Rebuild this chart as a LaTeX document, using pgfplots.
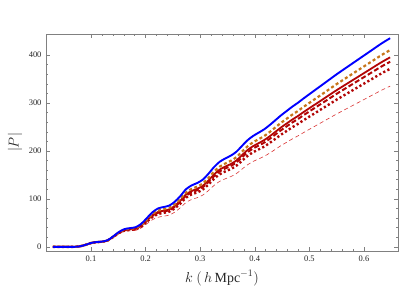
\documentclass[border=0pt]{standalone}
\usepackage{fontspec}
\setmainfont{Liberation Serif}
\usepackage{pgfplots}
\usepackage{pgfplotstable}
\pgfplotsset{compat=1.18}
\definecolor{myorange}{rgb}{0.78,0.46,0.10}
\definecolor{myred}{rgb}{0.70,0.02,0.02}
\definecolor{mythin}{rgb}{0.85,0.20,0.20}
\pgfplotstableread{
k B O R RD RDT TH
0.0300 0 0 0 0 0 0
0.0500 0 0 0 0 0 0
0.0700 0 0 0 0 0 0
0.0795 1 1 1 1 1 1
0.0898 4 4 4 4 4 3.9
0.1000 8 7.9 7.9 7.9 7.8 7.7
0.1102 10 9.9 9.8 9.8 9.7 9.5
0.1205 11 10.8 10.7 10.6 10.5 10.3
0.1307 14 13.7 13.5 13.4 13.3 12.8
0.1409 22 21.5 21.1 20.9 20.6 19.8
0.1512 31 30.1 29.6 29.2 28.7 27.4
0.1614 37 35.8 35.1 34.6 33.9 32.2
0.1717 39 37.6 36.7 36.2 35.3 33.3
0.1819 41 39.4 38.3 37.7 36.7 34.3
0.1921 48 45.8 44.5 43.7 42.4 39.3
0.2024 60 57.1 55.3 54.2 52.4 48.1
0.2126 72 68.2 65.8 64.4 62.1 56.6
0.2228 80 75.4 72.6 71.0 68.2 61.6
0.2331 83 78.3 75.4 73.6 70.8 63.9
0.2433 86 81.1 78.1 76.3 73.4 66.2
0.2535 94 88.6 85.4 83.4 80.2 72.4
0.2638 106 100.0 96.2 94.0 90.4 81.6
0.2740 120 113.2 109.0 106.4 102.4 92.4
0.2842 128 120.7 116.2 113.5 109.2 98.6
0.2945 133 125.4 120.8 118.0 113.4 102.4
0.3047 140 132.0 127.1 124.2 119.4 107.8
0.3149 152 143.3 138.0 134.8 129.7 117.0
0.3252 166 156.5 150.7 147.2 141.6 127.8
0.3354 177 166.9 160.7 157.0 151.0 136.3
0.3456 184 173.5 167.1 163.2 157.0 141.7
0.3559 190 179.2 172.5 168.5 162.1 146.3
0.3661 198 186.7 179.8 175.6 168.9 152.5
0.3763 210 198.0 190.7 186.3 179.1 161.7
0.3866 222 209.3 201.6 196.9 189.4 170.9
0.3968 231 217.8 209.7 204.9 197.0 177.9
0.4071 238 224.4 216.1 211.1 203.0 183.3
0.4173 245 231.0 222.5 217.3 209.0 188.7
0.4275 254 239.5 230.6 225.3 216.7 195.6
0.4378 264 249.0 239.7 234.2 225.2 203.3
0.4480 274 258.4 248.8 243.0 233.7 211.0
0.4583 283 266.9 257.0 251.0 241.4 217.9
0.4685 292 275.4 265.1 259.0 249.1 224.8
0.4787 300 282.9 272.4 266.1 255.9 231.0
0.4890 309 291.4 280.6 274.1 263.6 237.9
0.5094 326 307.4 296.0 289.2 278.1 251.0
0.5299 343 323.4 311.4 304.2 292.6 264.1
0.5504 360 339.5 326.9 319.3 307.1 277.2
0.5708 376 354.6 341.4 333.5 320.7 289.5
0.5913 392 369.7 355.9 347.7 334.4 301.8
0.6118 408 384.7 370.5 361.9 348.0 314.2
0.6323 424 399.8 385.0 376.1 361.7 326.5
0.6480 435 410.2 395.0 385.8 371.1 335.0
}\datatab
\begin{document}
\begin{tikzpicture}
\begin{axis}[
  name=ax,
  scale only axis,
  width=352bp, height=217bp,
  xmin=0.0176, xmax=0.6624,
  ymin=-8.7, ymax=443.7,
  xtick={0.1,0.2,0.3,0.4,0.5,0.6},
  ytick={0,100,200,300,400},
  minor x tick num=4,
  minor y tick num=4,
  tick align=inside,
  major tick length=4bp,
  minor tick length=2bp,
  axis line style={black!50},
  every tick/.style={black!50},
  tick label style={font=\fontsize{8.5}{10}\selectfont, text=black!85},
  /pgf/number format/assume math mode=true,
  xticklabel style={yshift=-1bp},
  yticklabel style={xshift=-1bp},
  xlabel={$k\ \bigl(\,h\,\mathrm{Mpc}^{-1}\bigr)$},
  ylabel={$|P|$},
  label style={font=\fontsize{14}{16}\selectfont, text=black!85},
  xlabel style={at={(axis description cs:0.5,-0.125)}, anchor=center},
  ylabel style={at={(axis description cs:-0.088,0.5)}, anchor=center},
  every axis plot/.append style={line join=round},
]
\addplot[mythin, line width=0.6bp, dash pattern=on 4bp off 3bp, smooth] table[x=k,y=TH] {\datatab};
\addplot[myred, line width=2.4bp, dash pattern=on 2.2bp off 2.4bp, smooth] table[x=k,y=RDT] {\datatab};
\addplot[myred, line width=2bp, dash pattern=on 5bp off 2.5bp, smooth] table[x=k,y=RD] {\datatab};
\addplot[myred, line width=1.8bp, smooth] table[x=k,y=R] {\datatab};
\addplot[myorange, line width=2.2bp, dash pattern=on 3bp off 2.5bp, smooth] table[x=k,y=O] {\datatab};
\addplot[blue, line width=1.9bp, smooth] table[x=k,y=B] {\datatab};
\end{axis}
\pgfresetboundingbox
\path ([xshift=-46bp,yshift=-57bp]ax.south west) rectangle ([xshift=13bp,yshift=34bp]ax.north east);
\end{tikzpicture}
\end{document}
